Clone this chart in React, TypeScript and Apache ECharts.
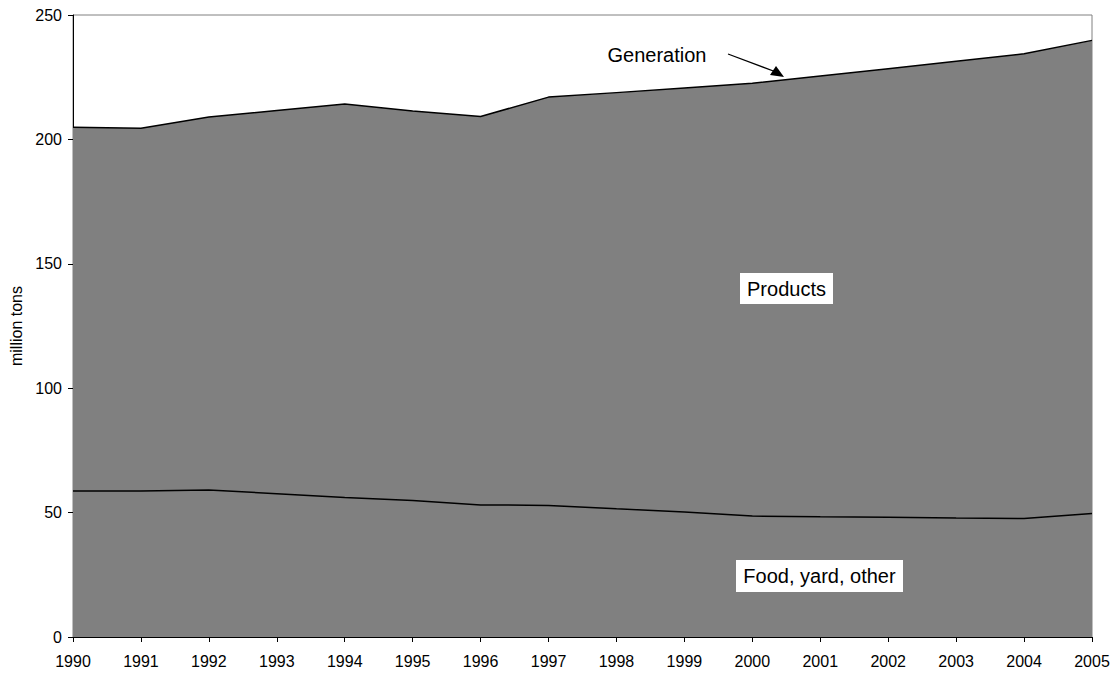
import React, { useEffect, useRef } from "react";
import * as echarts from "echarts";

const years = ["1990","1991","1992","1993","1994","1995","1996","1997","1998","1999","2000","2001","2002","2003","2004","2005"];
const generation = [204.9, 204.5, 209.0, 211.6, 214.2, 211.4, 209.2, 217.0, 218.8, 220.7, 222.6, 225.5, 228.4, 231.4, 234.4, 239.8];
const foodYardOther = [58.7, 58.7, 59.1, 57.6, 56.1, 54.9, 53.1, 52.9, 51.5, 50.2, 48.6, 48.3, 48.1, 47.8, 47.6, 49.6];
const yTicks = { min: 0, max: 250, interval: 50 };

const FONT = "Liberation Sans, Arial, sans-serif";

export default function App() {
  const ref = useRef<HTMLDivElement>(null);
  useEffect(() => {
    if (!ref.current) return;
    const chart = echarts.init(ref.current, null, { renderer: "svg" });
    chart.setOption({
      animation: false,
      backgroundColor: "#ffffff",
      textStyle: { fontFamily: FONT },
      grid: {
        left: 73, right: 27, top: 15, bottom: 38,
        show: true, borderColor: "#808080", borderWidth: 1, backgroundColor: "transparent",
      },
      xAxis: {
        type: "category",
        data: years,
        boundaryGap: false,
        axisLine: { show: true, lineStyle: { color: "#000", width: 1 } },
        axisTick: { show: true, alignWithLabel: true, length: 5, lineStyle: { color: "#000" } },
        axisLabel: { color: "#000", fontSize: 16, fontFamily: FONT, margin: 16, interval: 0 },
        splitLine: { show: false },
      },
      yAxis: {
        type: "value",
        min: yTicks.min, max: yTicks.max, interval: yTicks.interval,
        name: "million tons",
        nameLocation: "middle",
        nameGap: 48,
        nameRotate: 90,
        nameTextStyle: { color: "#000", fontSize: 16, fontFamily: FONT },
        axisLine: { show: true, lineStyle: { color: "#000", width: 1 } },
        axisTick: { show: true, length: 5, lineStyle: { color: "#000" } },
        axisLabel: { color: "#000", fontSize: 16, fontFamily: FONT, margin: 11 },
        splitLine: { show: false },
      },
      series: [
        {
          name: "Generation",
          type: "line",
          data: generation,
          symbol: "none",
          lineStyle: { color: "#000", width: 1.5 },
          areaStyle: { color: "#808080", opacity: 1 },
          z: 2,
        },
        {
          name: "Food, yard, other",
          type: "line",
          data: foodYardOther,
          symbol: "none",
          lineStyle: { color: "#000", width: 1.5 },
          areaStyle: { color: "#808080", opacity: 1 },
          z: 3,
        },
      ],
      graphic: [
        {
          type: "text",
          x: 657, y: 55,
          style: { text: "Generation", font: `20px ${FONT}`, fill: "#000", align: "center", verticalAlign: "middle" },
          z: 10,
        },
        {
          type: "line",
          shape: { x1: 728, y1: 54, x2: 776, y2: 72 },
          style: { stroke: "#000", lineWidth: 1.2 },
          z: 10,
        },
        {
          type: "polygon",
          shape: { points: [[784, 77], [770, 75], [776, 66]] },
          style: { fill: "#000" },
          z: 10,
        },
        {
          type: "rect",
          shape: { x: 740, y: 273, width: 93, height: 31 },
          style: { fill: "#fff" },
          z: 10,
        },
        {
          type: "text",
          x: 786.5, y: 289,
          style: { text: "Products", font: `20px ${FONT}`, fill: "#000", align: "center", verticalAlign: "middle" },
          z: 11,
        },
        {
          type: "rect",
          shape: { x: 736, y: 560, width: 167, height: 32 },
          style: { fill: "#fff" },
          z: 10,
        },
        {
          type: "text",
          x: 819.5, y: 576,
          style: { text: "Food, yard, other", font: `20px ${FONT}`, fill: "#000", align: "center", verticalAlign: "middle" },
          z: 11,
        },
      ],
    });
    return () => chart.dispose();
  }, []);
  return (
    <div
      ref={ref}
      style={{ position: "fixed", left: 0, top: 0, width: 1119, height: 675, background: "#fff" }}
    />
  );
}
